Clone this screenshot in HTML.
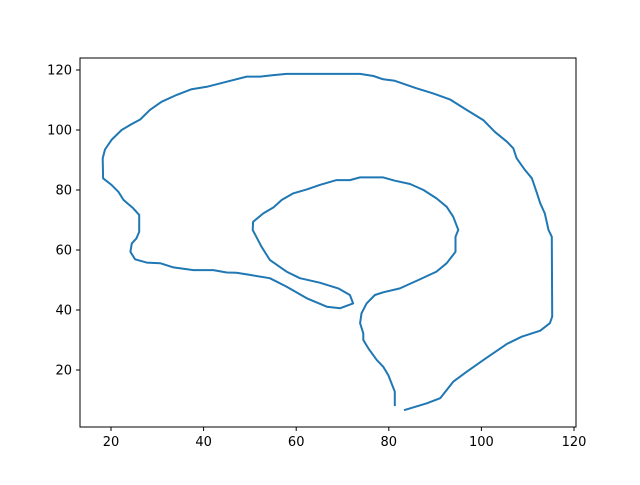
<!DOCTYPE html>
<html><head><meta charset="utf-8"><style>
html,body{margin:0;padding:0;background:#fff;}
svg text{font-family:"DejaVu Sans","Liberation Sans",sans-serif;font-size:13px;fill:#000;}
</style></head><body>
<svg id="chart" width="640" height="480" viewBox="0 0 640 480" xmlns="http://www.w3.org/2000/svg">
<rect x="0" y="0" width="640" height="480" fill="#fff"/>
<g id="plot"></g>
<rect x="80" y="58" width="496" height="369" fill="none" stroke="#000" stroke-width="1"/>
<g id="xticks"></g>
<g id="yticks"></g>
</svg>
<script>
const xs = [81.3,81.3,80.6,79.9,78.8,77.4,75.6,74.5,74.5,73.8,74.1,75.2,77.0,78.8,82.4,86.7,90.3,92.5,94.4,94.4,95.0,93.9,92.5,90.3,87.5,84.6,81.3,78.8,73.8,71.6,69.5,68.7,65.1,62.3,59.4,56.9,55.1,52.9,50.7,50.6,52.5,54.3,57.9,60.8,65.1,69.1,71.6,72.3,69.5,66.6,62.3,57.9,54.3,50.0,47.1,45.0,42.1,37.8,33.5,30.6,27.7,25.2,24.2,24.5,25.5,26.1,26.1,24.8,22.7,21.6,20.1,18.3,18.2,18.7,20.1,22.3,24.5,26.3,28.4,30.9,34.2,37.4,40.7,45.0,49.3,52.2,55.1,57.9,73.8,76.7,78.8,81.3,86.0,89.6,93.2,96.8,100.4,102.9,105.5,106.9,107.6,109.4,110.9,111.9,112.7,113.7,114.5,115.2,115.3,114.8,112.7,108.7,105.5,100.4,96.8,93.9,91.1,88.2,83.5];
const ys = [8.3,12.8,15.5,18.3,21.1,23.3,27.2,30.0,32.2,35.6,38.9,42.2,45.0,45.9,47.2,50.2,52.8,55.6,59.4,64.4,66.7,71.1,74.4,77.2,80.0,82.0,83.1,84.2,84.2,83.3,83.3,83.3,81.7,80.2,78.9,76.7,74.2,72.2,69.4,66.7,61.1,56.7,52.8,50.6,49.1,47.2,45.0,42.2,40.6,41.1,43.9,47.8,50.6,51.7,52.4,52.5,53.3,53.3,54.2,55.6,55.8,56.9,59.4,62.2,63.9,66.1,71.7,73.9,76.7,79.4,81.7,83.9,90.6,93.5,96.7,100.0,102.0,103.5,106.7,109.4,111.7,113.6,114.4,116.1,117.8,117.8,118.3,118.7,118.7,118.0,116.9,116.4,113.9,112.2,110.2,106.7,103.3,99.4,96.1,93.9,90.6,86.7,83.9,79.4,75.6,72.2,66.7,64.4,37.8,35.6,33.1,31.1,28.7,23.3,19.4,16.1,10.6,8.9,6.7];
const xTicks = [20,40,60,80,100,120];
const yTicks = [20,40,60,80,100,120];
const NS = "http://www.w3.org/2000/svg";
function sx(v){ return 111 + (v-20)*4.63; }
function sy(v){ return 430 - v*3; }
const plot = document.getElementById('plot');
const line = document.createElementNS(NS,'polyline');
line.setAttribute('points', xs.map((x,i)=>sx(x).toFixed(1)+','+sy(ys[i]).toFixed(1)).join(' '));
line.setAttribute('fill','none');
line.setAttribute('stroke','#1f77b4');
line.setAttribute('stroke-width','2');
line.setAttribute('stroke-linejoin','round');
line.setAttribute('stroke-linecap','square');


plot.appendChild(line);
const xg = document.getElementById('xticks');
xTicks.forEach(t=>{
  const p = sx(t);
  const l = document.createElementNS(NS,'line');
  l.setAttribute('x1',p); l.setAttribute('x2',p); l.setAttribute('y1',427); l.setAttribute('y2',431);
  l.setAttribute('stroke','#000');
  
  
  xg.appendChild(l);
  const tx = document.createElementNS(NS,'text');
  tx.setAttribute('x',p); tx.setAttribute('y',446); tx.setAttribute('text-anchor','middle');
  tx.textContent = t;
  
  
  xg.appendChild(tx);
});
const yg = document.getElementById('yticks');
yTicks.forEach(t=>{
  const p = sy(t);
  const l = document.createElementNS(NS,'line');
  l.setAttribute('x1',76); l.setAttribute('x2',80); l.setAttribute('y1',p); l.setAttribute('y2',p);
  l.setAttribute('stroke','#000');
  
  
  yg.appendChild(l);
  const tx = document.createElementNS(NS,'text');
  tx.setAttribute('x',72); tx.setAttribute('y',p+4.5); tx.setAttribute('text-anchor','end');
  tx.textContent = t;
  
  
  yg.appendChild(tx);
});
</script>
</body></html>
